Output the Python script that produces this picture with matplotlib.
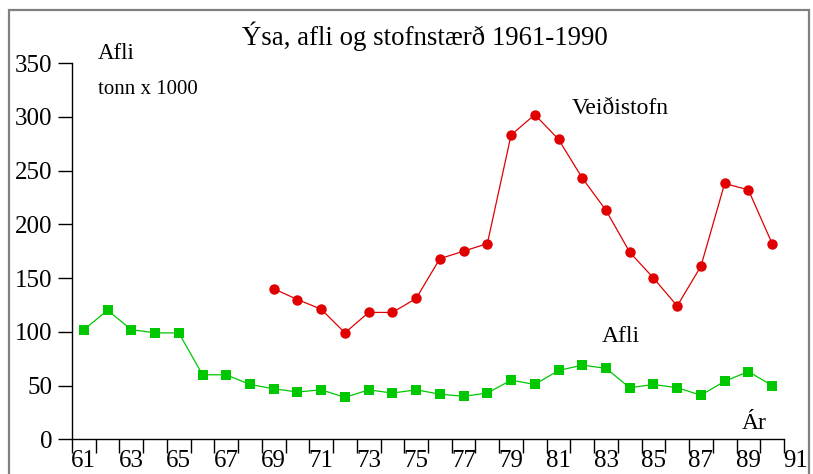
import matplotlib
matplotlib.use("Agg")
import matplotlib.pyplot as plt
from matplotlib.patches import Rectangle
from matplotlib.ticker import FixedLocator

years_stock = list(range(1969, 1991))
veidistofn = [140, 130, 121, 99, 118, 118, 131, 168, 175, 182, 283, 302, 279,
              243, 213, 174, 150, 124, 161, 238, 232, 182]

years_catch = list(range(1961, 1991))
afli = [102, 120, 102, 99, 99, 60, 60, 51, 47, 44, 46, 39, 46, 43, 46, 42, 40,
        43, 55, 51, 64, 69, 66, 48, 51, 48, 41, 54, 63, 50]

xtick_years = list(range(1961, 1990, 2))
xtick_labels = [str(y % 100) for y in xtick_years]
ytick_vals = list(range(0, 351, 50))

title = "Ýsa, afli og stofnstærð 1961-1990"

plt.rcParams['font.family'] = ['Liberation Serif', 'DejaVu Serif']

W, H = 813, 474
fig = plt.figure(figsize=(W / 100, H / 100), dpi=100)
ax = fig.add_axes([72 / W, 1 - 439.3 / H, 712 / W, (439.3 - 63) / H])

red = '#e00000'
green = '#00c800'
ax.plot(years_stock, veidistofn, color=red, lw=0.9, marker='o', ms=7.5,
        markeredgewidth=0, clip_on=False, zorder=3)
ax.plot(years_catch, afli, color=green, lw=0.9, marker='s', ms=7.3,
        markeredgewidth=0, clip_on=False, zorder=3)

ax.set_xlim(1960.5, 1990.5)
ax.set_ylim(0, 350)

for s in ['top', 'right']:
    ax.spines[s].set_visible(False)
for s in ['left', 'bottom']:
    ax.spines[s].set_linewidth(1.0)
    ax.spines[s].set_color('black')

tick_fs = 18
xpad = 8
ax.xaxis.set_major_locator(FixedLocator(xtick_years))
ax.set_xticklabels(xtick_labels)
ax.xaxis.set_minor_locator(FixedLocator([y + 0.5 for y in range(1960, 1991)]))
ax.tick_params(axis='x', which='major', length=0, pad=xpad, labelsize=tick_fs)
ax.tick_params(axis='x', which='minor', length=10, width=1.0, direction='out')
ax.set_yticks(ytick_vals)
ax.tick_params(axis='y', which='major', length=10, width=1.0, direction='out',
               pad=4, labelsize=tick_fs)

ax.annotate("91", xy=(1991, 0), xycoords=('data', 'axes fraction'),
            xytext=(0, -xpad), textcoords='offset points', ha='center',
            va='top', fontsize=tick_fs, annotation_clip=False)

ax.text(1961.59, 353.7, "Afli", fontsize=16.5, ha='left', va='baseline')
ax.text(1961.59, 320.8, "tonn x 1000", fontsize=15, ha='left', va='baseline')
ax.text(1981.57, 302.1, "Veiðistofn", fontsize=17, ha='left', va='baseline')
ax.text(1982.84, 90.7, "Afli", fontsize=17, ha='left', va='baseline')
ax.text(1988.74, 9.6, "Ár", fontsize=17, ha='left', va='baseline')

fig.text(425 / W, 1 - 45 / H, title, fontsize=19.3, ha='center', va='baseline')

fig.patches.append(Rectangle((9 / W, -0.1), 800 / W, 1.1 - 10 / H,
                             transform=fig.transFigure, fill=False,
                             edgecolor='#808080', lw=1.6))

fig.savefig("out.png", dpi=100)
